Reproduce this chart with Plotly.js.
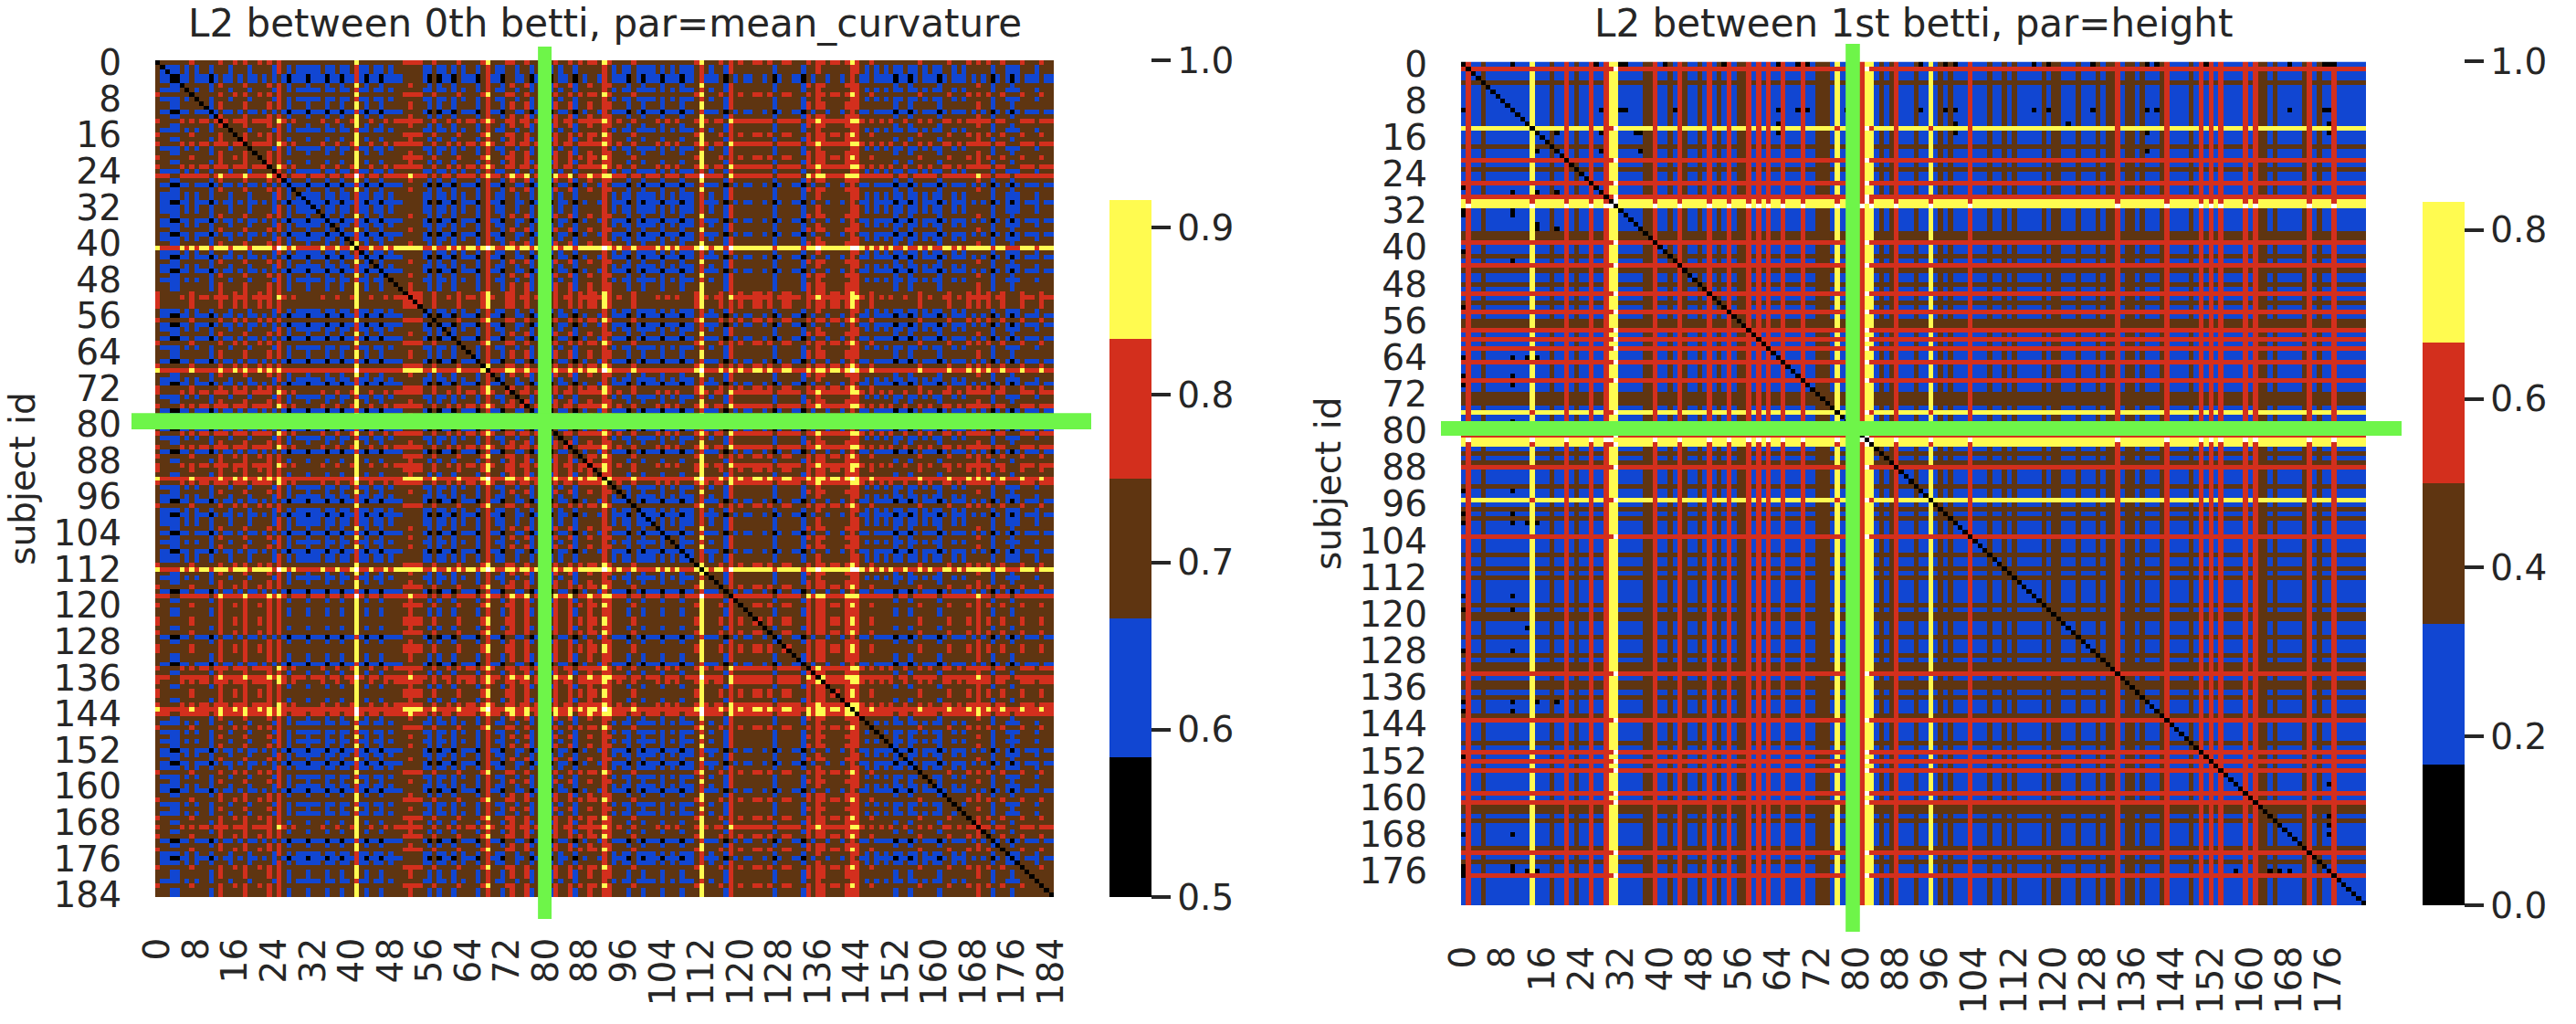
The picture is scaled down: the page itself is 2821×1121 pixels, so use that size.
<!DOCTYPE html>
<html>
<head>
<meta charset="utf-8">
<script src="https://cdn.plot.ly/plotly-3.0.1.min.js"></script>
<style>html,body{margin:0;padding:0;background:#fff}</style>
</head>
<body>
<div id="chart" style="width:2821px;height:1121px"></div>
<script>
// NOTE: the cell matrices are NOT a cell-by-cell transcription. Each subject has one
// level/class estimated from the stripes in the picture (leftLevels is the rougher of the two);
// a cell's colour band comes from the two subjects' levels via the lookup tables below.
// The explicit black cells (rightDarkPairs) are read directly. Fine texture is therefore approximate.

const leftTitle = "L2 between 0th betti, par=mean_curvature";
const rightTitle = "L2 between 1st betti, par=height";
const yLabel = "subject id";

const bandColors = ["#000000", "#1146D2", "#5F3511", "#D32F1D", "#FFFB50", "#FFFFFF"];
const highlightColor = "#6EF549";
const inkColor = "#262626";

// Per-subject stripe level, left chart (subjects 0-184)
const leftLevels = (
  "4221132423" + "3135324352" + "3435263132" + "2122312312" + "3821321323" +
  "3454421412" + "3142331473" + "2145235134" + "4152351435" + "4375232142" +
  "1223132312" + "2483234163" + "4334434134" + "4331536534" + "4357632423" +
  "2312312423" + "2134232435" + "3413421243" + "32433").split("").map(Number);

// Band reached for the sum of two subjects' levels, left chart (index = sum)
const leftBandBySum = [0, 0, 0, 1, 1, 2, 2, 2, 3, 3, 3, 4, 4, 4, 5, 5, 5, 5];

// Per-subject stripe class, right chart (subjects 0-183): 1 blue, 2 brown, 3 red, 4 yellow, 5 yellow/white
const rightClasses = (
  "1311211111" + "1111411121" + "1312113113" + "4511111223" + "1121321121" +
  "3121312231" + "3131131113" + "1122214111" + "1354121231" + "1121141212" +
  "1113111211" + "2121111121" + "2211121112" + "1223122121" + "1123111121" +
  "3131311113" + "1322121111" + "1231211311" + "1111").split("").map(Number);

// Band seen where a stripe of one class crosses a stripe of another, right chart
const rightCrossing = [
  [1, 2, 3, 4, 4],
  [2, 2, 3, 4, 4],
  [3, 3, 3, 3, 5],
  [4, 4, 3, 3, 5],
  [4, 4, 5, 5, 4]
];

// Black cells visible off the diagonal, right chart
const rightDarkPairs = [
  [0, [10,27,32,33,41,53,64,68,70,93,98,100,116,119,128,139,141,151,168,175,176,177]],
  [10, [28,32,33,43,64,68,70,78,93,98,100,116,119,128,139,141,168,175,176]],
  [13, [64,100,123,176]],
  [15, [19,28,35,36,64,100,139,176]],
  [19, [28,36,139]],
  [176, [157,164,166,168]]
];

const leftRange = [0.5, 1.0];
const rightRange = [0.0, 1.0];
const leftTicks = [0.5, 0.6, 0.7, 0.8, 0.9, 1.0];
const rightTicks = [0.0, 0.2, 0.4, 0.6, 0.8, 1.0];
const tickStep = 8;

function bandValue(band, range) {
  return range[0] + (band + 0.5) * (range[1] - range[0]) / bandColors.length;
}
function stepScale() {
  const s = [], n = bandColors.length;
  bandColors.forEach((c, i) => { s.push([i / n, c]); s.push([(i + 1) / n, c]); });
  return s;
}
function indexTicks(n) {
  const t = [];
  for (let i = 0; i < n; i += tickStep) t.push(i);
  return t;
}

const leftN = leftLevels.length, rightN = rightClasses.length;
const leftZ = [], rightZ = [];
for (let i = 0; i < leftN; i++) {
  const row = [];
  for (let j = 0; j < leftN; j++) {
    row.push(i === j ? bandValue(0, leftRange) : bandValue(leftBandBySum[leftLevels[i] + leftLevels[j]], leftRange));
  }
  leftZ.push(row);
}
for (let i = 0; i < rightN; i++) {
  const row = [];
  for (let j = 0; j < rightN; j++) {
    row.push(i === j ? bandValue(0, rightRange) : bandValue(rightCrossing[rightClasses[i] - 1][rightClasses[j] - 1], rightRange));
  }
  rightZ.push(row);
}
rightDarkPairs.forEach(([a, list]) => list.forEach(b => {
  rightZ[a][b] = bandValue(0, rightRange);
  rightZ[b][a] = bandValue(0, rightRange);
}));

const W = 2821, H = 1121;
const font = "DejaVu Sans, sans-serif";
const px = v => v / W, py = v => 1 - v / H;

function colorbar(xLeft, top, bottom, ticks) {
  return {
    x: px(xLeft), xanchor: "left", xpad: 0,
    y: py(bottom), yanchor: "bottom", ypad: 0,
    len: bottom - top, lenmode: "pixels",
    thickness: 46, thicknessmode: "pixels",
    outlinewidth: 0, borderwidth: 0,
    ticks: "outside", ticklen: 21, tickwidth: 4, tickcolor: inkColor,
    tickmode: "array", tickvals: ticks, ticktext: ticks.map(t => t.toFixed(1)),
    tickfont: {family: font, size: 39, color: inkColor}
  };
}

const traces = [
  {type: "heatmap", z: leftZ, xaxis: "x", yaxis: "y", zmin: leftRange[0], zmax: leftRange[1],
   colorscale: stepScale(), zsmooth: false, hoverongaps: false, colorbar: colorbar(1215, 66, 982, leftTicks)},
  {type: "heatmap", z: rightZ, xaxis: "x2", yaxis: "y2", zmin: rightRange[0], zmax: rightRange[1],
   colorscale: stepScale(), zsmooth: false, hoverongaps: false, colorbar: colorbar(2653, 67.5, 991, rightTicks)}
];

function xAxis(l, r, n) {
  return {domain: [px(l), px(r)], range: [-0.5, n - 0.5], tickmode: "array", tickvals: indexTicks(n),
    ticktext: indexTicks(n).map(String), tickangle: -90, ticks: "", showgrid: false, zeroline: false,
    ticklabelstandoff: 36, tickfont: {family: font, size: 39, color: inkColor}, showline: false};
}
function yAxis(t, b, n, anchor) {
  return {domain: [py(b), py(t)], range: [n - 0.5, -0.5], tickmode: "array", tickvals: indexTicks(n),
    ticktext: indexTicks(n).map(String), ticks: "", showgrid: false, zeroline: false, anchor: anchor,
    ticklabelstandoff: 36, tickfont: {family: font, size: 39, color: inkColor}, showline: false,
    title: {text: yLabel, font: {family: font, size: 39, color: inkColor}, standoff: 7}};
}

const layout = {
  width: W, height: H, autosize: false,
  margin: {l: 0, r: 0, t: 0, b: 0},
  paper_bgcolor: "#fff", plot_bgcolor: "#fff", showlegend: false,
  xaxis: Object.assign(xAxis(170, 1154, leftN), {anchor: "y"}),
  yaxis: yAxis(66, 982, leftN, "x"),
  xaxis2: Object.assign(xAxis(1600, 2591, rightN), {anchor: "y2"}),
  yaxis2: yAxis(67.5, 991, rightN, "x2"),
  annotations: [
    {text: leftTitle, xref: "paper", yref: "paper", x: px(662), y: py(52), xanchor: "center", yanchor: "bottom",
     showarrow: false, font: {family: font, size: 42, color: inkColor}},
    {text: rightTitle, xref: "paper", yref: "paper", x: px(2095.5), y: py(52), xanchor: "center", yanchor: "bottom",
     showarrow: false, font: {family: font, size: 42, color: inkColor}}
  ],
  shapes: [
    {type: "rect", layer: "above", xref: "x", yref: "paper", x0: 78.3, x1: 81.1, y0: py(1006), y1: py(51), fillcolor: highlightColor, line: {width: 0}},
    {type: "rect", layer: "above", xref: "paper", yref: "y", x0: px(144), x1: px(1195), y0: 77.5, y1: 81.1, fillcolor: highlightColor, line: {width: 0}},
    {type: "rect", layer: "above", xref: "x2", yref: "paper", x0: 77.7, x1: 80.6, y0: py(1020), y1: py(48), fillcolor: highlightColor, line: {width: 0}},
    {type: "rect", layer: "above", xref: "paper", yref: "y2", x0: px(1578), x1: px(2630), y0: 77.9, y1: 81.1, fillcolor: highlightColor, line: {width: 0}}
  ]
};

Plotly.newPlot("chart", traces, layout, {displayModeBar: false, staticPlot: true});
</script>
</body>
</html>
